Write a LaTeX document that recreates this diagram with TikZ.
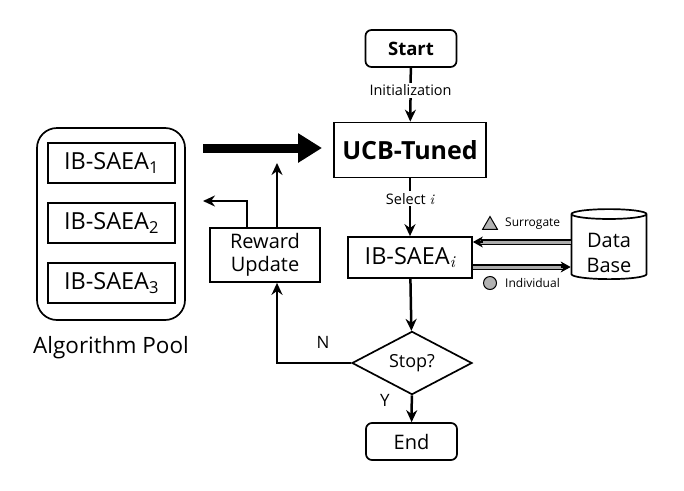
\documentclass[tikz,border=0pt]{standalone}
\usepackage{fontspec}
\setmainfont{Open Sans}
\newfontfamily\lmit{lmroman10-italic.otf}
\newcommand{\ivar}{{\lmit i}}
\usetikzlibrary{arrows.meta,shapes.geometric,calc}
\begin{document}
\begin{tikzpicture}[x=1pt,y=-1pt,
  box/.style={draw,line width=1.7pt,inner sep=0pt,align=center},
  rbox/.style={box,rounded corners=6pt},
  flow/.style={line width=2.5pt,-{Stealth[length=12pt,width=11pt]}},
  dblshaft/.style={double=gray!65,double distance=3pt,line width=1.1pt},
  dbltip/.style={line width=1.2pt,-{Stealth[length=10pt,width=11pt]}},
  lbl/.style={font=\fontsize{14.5}{16}\selectfont,fill=white,inner sep=1.5pt},
  small/.style={font=\fontsize{12}{14}\selectfont,anchor=west,inner sep=0pt},
  ibfont/.style={font=\fontsize{23.5}{26}\selectfont}
]
\useasboundingbox (0,0) rectangle (684,490);

% main flow nodes
\node[rbox,minimum width=91pt,minimum height=37pt,font=\fontsize{18.5}{20}\selectfont\bfseries] (start) at (411,48.5) {Start};
\node[box,minimum width=152pt,minimum height=55pt,font=\fontsize{25}{28}\selectfont\bfseries] (ucb) at (410,150) {UCB-Tuned};
\node[box,ibfont,minimum width=124pt,minimum height=41pt] (ibi) at (410,257.5) {IB-SAEA\textsubscript{\ivar}};
\node[draw,diamond,line width=1.7pt,inner sep=0pt,minimum width=120pt,minimum height=50pt,font=\fontsize{18}{20}\selectfont] (stop) at (412,363) {Stop?};
\node[rbox,minimum width=91pt,minimum height=37pt,font=\fontsize{20}{21}\selectfont] (end) at (411.5,441.5) {End};
\node[draw,cylinder,shape border rotate=90,aspect=0.22,line width=1.7pt,minimum width=75pt,minimum height=70pt,inner sep=0pt,align=center,font=\fontsize{20}{25}\selectfont] (db) at (609,247) {\\[2pt]Data\\Base};

% reward update
\node[box,minimum width=110pt,minimum height=54pt,font=\fontsize{20}{23}\selectfont] (reward) at (265,255) {Reward\\Update};

% algorithm pool
\node[draw,line width=1.7pt,rounded corners=20pt,minimum width=148pt,minimum height=192pt] (pool) at (111,224) {};
\node[box,ibfont,minimum width=127pt,minimum height=40pt] (ib1) at (111.5,163) {IB-SAEA\textsubscript{1}};
\node[box,ibfont,minimum width=127pt,minimum height=40pt] (ib2) at (111.5,223) {IB-SAEA\textsubscript{2}};
\node[box,ibfont,minimum width=127pt,minimum height=40pt] (ib3) at (111.5,283) {IB-SAEA\textsubscript{3}};
\node[font=\fontsize{22.5}{26}\selectfont] (pooltxt) at (111,348) {Algorithm Pool};

% flow arrows
\draw[flow] (start) -- node[lbl,pos=0.42] {Initialization} (ucb);
\draw[flow] (ucb) -- node[lbl,pos=0.35] {Select \ivar} (ibi);
\draw[flow] (ibi) -- (stop);
\draw[flow] (stop) -- (end);
\node[font=\fontsize{17}{19}\selectfont] (ylbl) at (385,400) {Y};
\node[font=\fontsize{17}{19}\selectfont] (nlbl) at (323,342) {N};

% N branch to reward update
\coordinate (rx) at (277,0);
\draw[flow] (stop.west) -| (reward.south -| rx);
\coordinate (upend) at (277,163);
\draw[flow] (reward.north -| rx) -- (upend);
\coordinate (lx) at (247,201);
\coordinate (leftend) at (203,201);
\draw[flow] (reward.north -| lx) -- (lx) -- (leftend);

% big arrow
\coordinate (bigs) at (203,148);
\coordinate (bige) at (322,148);
\draw[line width=9pt,-{Triangle[length=24pt,width=28pt]}] (bigs) -- (bige);

% database exchange
\path (ibi.east) ++(0,-15.5) coordinate (ua);
\path (ua -| db.west) coordinate (ub);
\draw[dblshaft] (ub) -- ($(ua)+(8,0)$);
\draw[dbltip] ($(ua)+(10,0)$) -- (ua);
\path (ibi.east) ++(0,9.5) coordinate (la);
\path (la -| db.west) coordinate (lb);
\draw[dblshaft] (la) -- ($(lb)+(-8,0)$);
\draw[dbltip] ($(lb)+(-10,0)$) -- (lb);

% legend symbols
\node[draw,regular polygon,regular polygon sides=3,fill=gray!60,line width=1pt,inner sep=0pt,minimum size=17pt] (tri) at (490,225) {};
\node[small] (surr) at (505,224) {Surrogate};
\node[draw,circle,fill=gray!60,line width=1pt,inner sep=0pt,minimum size=13pt] (circ) at (490,283) {};
\node[small] (indiv) at (505,283) {Individual};
\end{tikzpicture}
\end{document}
